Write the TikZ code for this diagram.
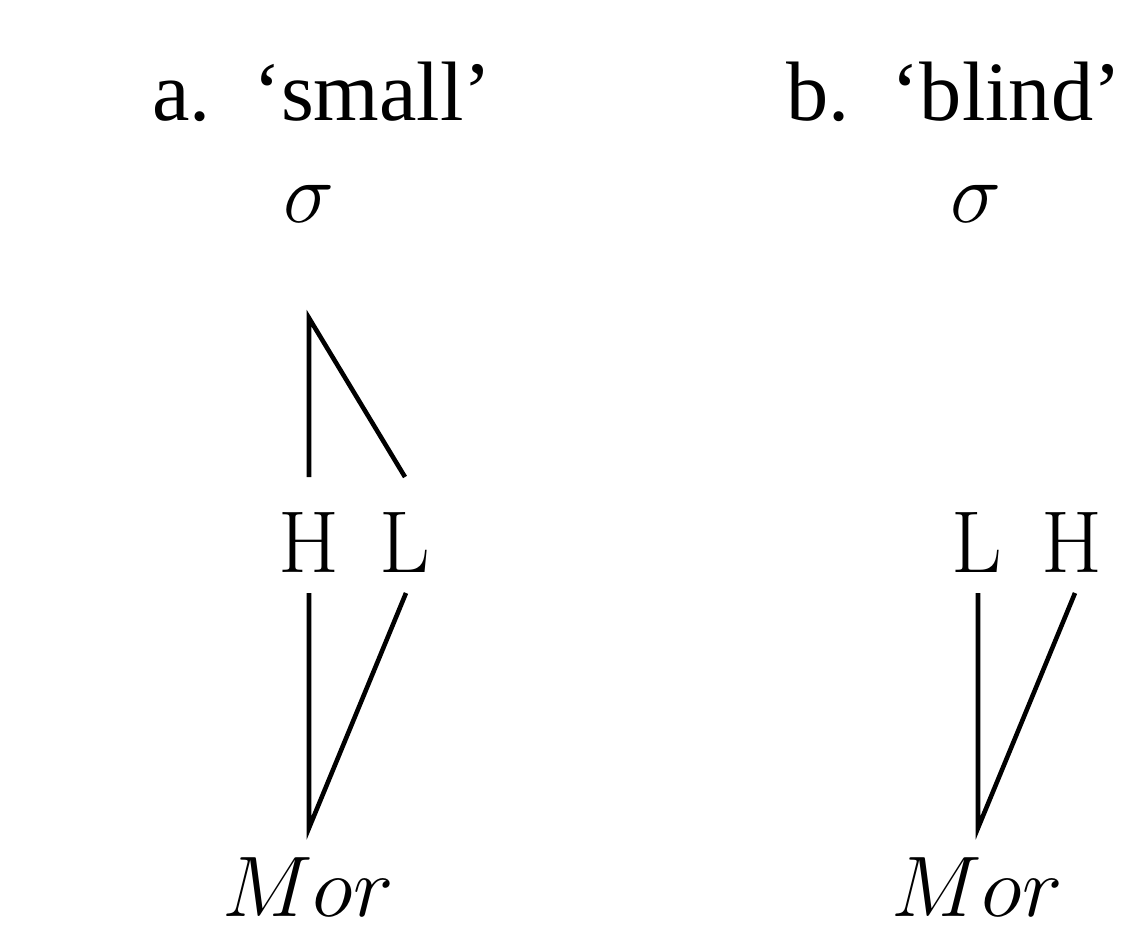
\RequirePackage{fix-cm}
\documentclass[tikz,border=0pt]{standalone}
\usepackage{fontspec}
\newfontfamily\timesfont{Liberation Serif}
\begin{document}
\begin{tikzpicture}[x=0.02cm,y=-0.02cm,
  title/.style={font=\timesfont\fontsize{48}{56}\selectfont, inner sep=0pt, anchor=base west},
  lbl/.style={font=\fontsize{50}{60}\selectfont, inner sep=0pt, anchor=base},
  mth/.style={font=\fontsize{49}{58}\selectfont, inner sep=0pt, anchor=base},
  assoc/.style={line width=2.6pt}]
\useasboundingbox (0,0) rectangle (1137,931);
% titles
\node[title] (ta) at (152,120) {a.\ \ ‘small’};
\node[title] (tb) at (786,120) {b.\ \ ‘blind’};
% sigma
\node[mth] (sa) at (309,222) {$\sigma$};
\node[mth] (sb) at (976,222) {$\sigma$};
% tones
\node[lbl] (Ha) at (309,572) {H};
\node[lbl] (La) at (405,572) {L};
\node[lbl] (Lb) at (977,572) {L};
\node[lbl] (Hb) at (1072,572) {H};
% Mor
\node[mth] (ma) at (308,916) {$Mor$};
\node[mth] (mb) at (977,916) {$Mor$};
% line end points (vertices set back to allow for the mitred tips)
\coordinate (sa1) at (309,318);
\coordinate (Ha1) at (309,477);
\coordinate (La1) at (405,477);
\coordinate (Ha2) at (309,593);
\coordinate (La2) at (406,593);
\coordinate (ma1) at (309,828);
\coordinate (Lb2) at (978,593);
\coordinate (Hb2) at (1075,593);
\coordinate (mb1) at (978,828);
\draw[assoc] (Ha1) -- (sa1) -- (La1);
\draw[assoc] (Ha2) -- (ma1) -- (La2);
\draw[assoc] (Lb2) -- (mb1) -- (Hb2);
\end{tikzpicture}
\end{document}
